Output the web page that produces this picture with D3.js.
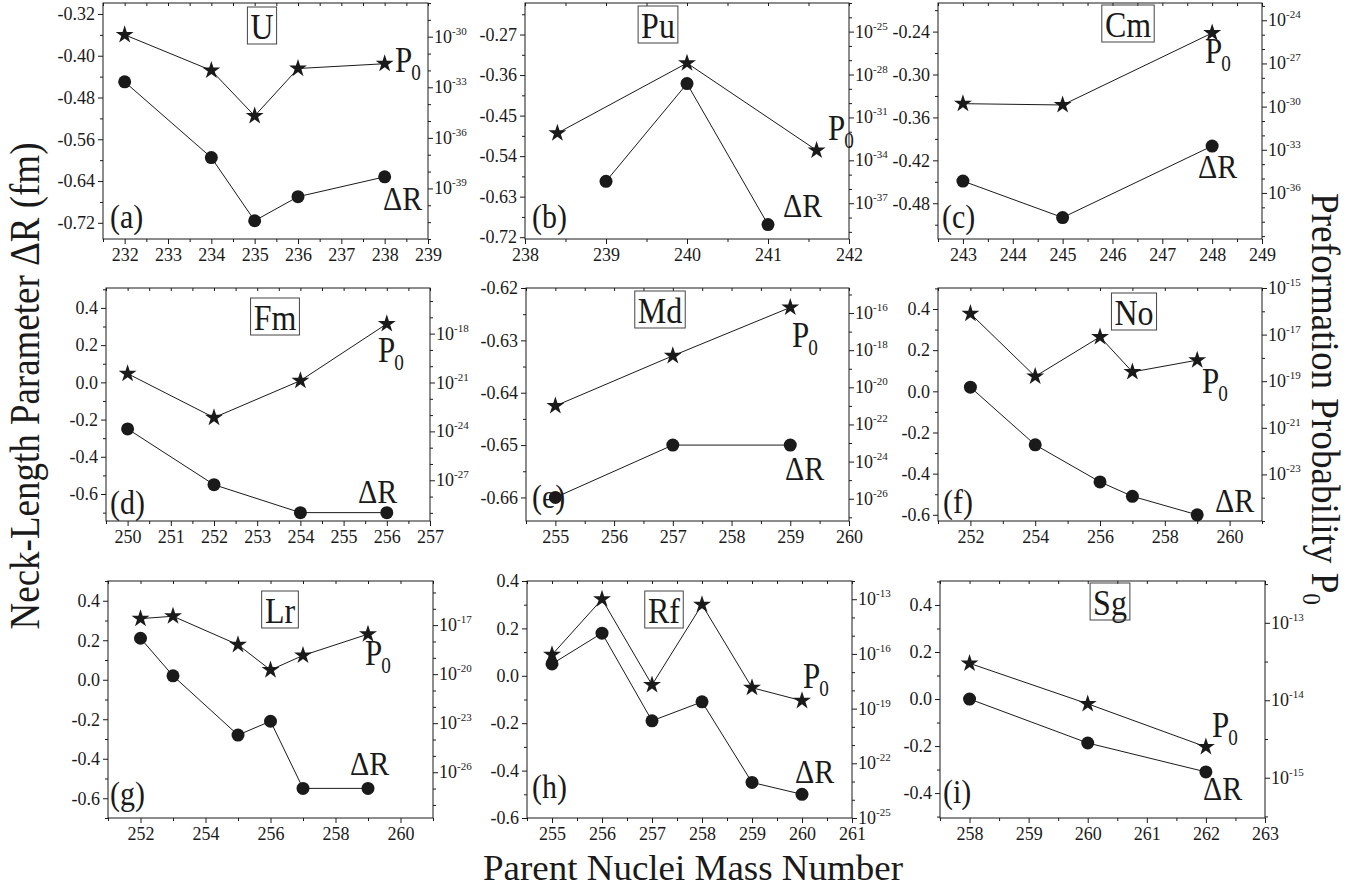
<!DOCTYPE html>
<html>
<head>
<meta charset="utf-8">
<script src="https://cdn.jsdelivr.net/npm/d3@7"></script>
<style>
  body { margin: 0; background: #fff; }
  svg { display: block; }
</style>
</head>
<body>
<div id="chart"></div>
<script>
// ---- data ----
const elements = ["U", "Pu", "Cm", "Fm", "Md", "No", "Lr", "Rf", "Sg"];
const tags = ["(a)", "(b)", "(c)", "(d)", "(e)", "(f)", "(g)", "(h)", "(i)"];

// neck-length parameter ΔR (fm), circles
const massDR = [
  [232, 234, 235, 236, 238],
  [239, 240, 241],
  [243, 245, 248],
  [250, 252, 254, 256],
  [255, 257, 259],
  [252, 254, 256, 257, 259],
  [252, 253, 255, 256, 257, 259],
  [255, 256, 257, 258, 259, 260],
  [258, 260, 262]
];
const deltaR = [
  [-0.450, -0.595, -0.716, -0.670, -0.632],
  [-0.596, -0.379, -0.692],
  [-0.449, -0.500, -0.400],
  [-0.25, -0.55, -0.70, -0.70],
  [-0.66, -0.65, -0.65],
  [0.02, -0.26, -0.44, -0.51, -0.60],
  [0.21, 0.02, -0.28, -0.21, -0.55, -0.55],
  [0.05, 0.18, -0.19, -0.11, -0.45, -0.50],
  [0.0, -0.187, -0.31]
];

// preformation probability P0, stars (right log axis)
const massP0 = [
  [232, 234, 235, 236, 238],
  [238.4, 240, 241.6],
  [243, 245, 248],
  [250, 252, 254, 256],
  [255, 257, 259],
  [252, 254, 256, 257, 259],
  [252, 253, 255, 256, 257, 259],
  [255, 256, 257, 258, 259, 260],
  [258, 260, 262]
];
const p0 = [
  [1.3e-30, 1.0e-32, 2.0e-35, 1.3e-32, 2.5e-32],
  [8e-33, 6.3e-28, 5e-34],
  [1.6e-30, 1.3e-30, 1.3e-25],
  [3.5e-21, 7e-24, 1.3e-21, 4e-18],
  [1e-21, 5e-19, 2e-16],
  [8e-17, 1.6e-19, 8e-18, 2.5e-19, 8e-19],
  [2.5e-17, 3.5e-17, 6.3e-19, 1.8e-20, 1.4e-19, 2.8e-18],
  [9e-17, 1e-13, 2e-18, 5e-14, 1.4e-18, 2.7e-19],
  [3e-14, 9e-15, 2.5e-15]
];

// axes
const xDomains = [[231.5, 239], [238, 242], [242.5, 249], [249.5, 257], [254.5, 260],
                  [251, 261], [251, 261], [254.5, 261], [257.5, 263]];
const xTicks = [
  [232, 233, 234, 235, 236, 237, 238, 239],
  [238, 239, 240, 241, 242],
  [243, 244, 245, 246, 247, 248, 249],
  [250, 251, 252, 253, 254, 255, 256, 257],
  [255, 256, 257, 258, 259, 260],
  [252, 254, 256, 258, 260],
  [252, 254, 256, 258, 260],
  [255, 256, 257, 258, 259, 260, 261],
  [258, 259, 260, 261, 262, 263]
];
const drDomains = [[-0.751, -0.299], [-0.724, -0.20], [-0.53, -0.20], [-0.745, 0.507], [-0.6645, -0.62],
                   [-0.63, 0.502], [-0.70, 0.50], [-0.6, 0.4], [-0.506, 0.502]];
const drTicks = [
  [-0.72, -0.64, -0.56, -0.48, -0.40, -0.32],
  [-0.72, -0.63, -0.54, -0.45, -0.36, -0.27],
  [-0.48, -0.42, -0.36, -0.30, -0.24],
  [-0.6, -0.4, -0.2, 0.0, 0.2, 0.4],
  [-0.66, -0.65, -0.64, -0.63, -0.62],
  [-0.6, -0.4, -0.2, 0.0, 0.2, 0.4],
  [-0.6, -0.4, -0.2, 0.0, 0.2, 0.4],
  [-0.6, -0.4, -0.2, 0.0, 0.2, 0.4],
  [-0.4, -0.2, 0.0, 0.2, 0.4]
];
const drDecimals = [2, 2, 2, 1, 2, 1, 1, 1, 1];
const p0Domains = [[1e-42, 1e-28], [Math.pow(10, -39.5), 1e-23], [Math.pow(10, -39.2), Math.pow(10, -22.8)],
                   [Math.pow(10, -29.5), Math.pow(10, -15.2)], [Math.pow(10, -27.2), Math.pow(10, -14.65)],
                   [1e-25, 1e-15], [Math.pow(10, -28.8), Math.pow(10, -14.3)], [1e-25, 1e-12],
                   [Math.pow(10, -15.52), Math.pow(10, -12.46)]];
const p0TickExps = [
  [-30, -33, -36, -39],
  [-25, -28, -31, -34, -37],
  [-24, -27, -30, -33, -36],
  [-18, -21, -24, -27],
  [-16, -18, -20, -22, -24, -26],
  [-15, -17, -19, -21, -23],
  [-17, -20, -23, -26],
  [-13, -16, -19, -22, -25],
  [-13, -14, -15]
];

// ---- layout ----
const frames = [[103, 3, 428, 239], [525, 3, 849, 239], [938, 3, 1262, 239],
                [106, 288, 430, 521], [526, 288, 849, 521], [938, 288, 1262, 521],
                [108, 581, 433, 818], [527, 581, 852, 818], [940, 581, 1265, 818]];
const boxPos = [[262, 39], [658, 38], [1128, 37], [275, 330], [660, 323], [1134, 325], [280, 623], [664, 623], [1110, 615]];
const tagPos = [[110, 228], [532, 228], [942, 228], [110, 514], [532, 508], [943, 513], [110, 805], [532, 798], [943, 803]];
const p0Pos = [[395, 72], [828, 140], [1205, 63], [378, 362], [792, 347], [1202, 393], [365, 665], [803, 688], [1212, 737]];
const drPos = [[383, 210], [783, 217], [1198, 178], [358, 503], [785, 480], [1215, 512], [350, 775], [795, 783], [1203, 800]];

const ink = "#1a1a1a";
const serif = "'Times New Roman', Times, Tinos, 'Liberation Serif', 'Nimbus Roman', 'DejaVu Serif', 'Noto Serif', serif";
const stretch = 1.15;

const svg = d3.select("#chart").append("svg")
  .attr("width", 1369)
  .attr("height", 892)
  .style("font-family", serif);

function bigText(sel, x, y, size, text, sub) {
  const t = sel.append("text")
    .attr("transform", `translate(${x},${y}) scale(1,${stretch})`)
    .style("font-family", serif)
    .attr("font-size", size)
    .attr("fill", ink)
    .text(text);
  if (sub) {
    t.append("tspan").attr("font-size", size * 0.62).attr("dx", -1).attr("dy", 7).text(sub);
  }
  return t;
}

function minorOf(ticks, domain) {
  const step = ticks[1] - ticks[0];
  const out = [];
  const lo = Math.min(domain[0], domain[1]), hi = Math.max(domain[0], domain[1]);
  for (let v = ticks[0] - step / 2; v <= ticks[ticks.length - 1] + step / 2 + 1e-9; v += step) {
    if (v >= lo - 1e-9 && v <= hi + 1e-9) out.push(v);
  }
  return out;
}

function styleAxis(g) {
  g.select(".domain").remove();
  g.selectAll(".tick line").attr("stroke", ink);
  g.attr("font-family", null).attr("font-size", 18).style("font-family", serif);
  g.selectAll(".tick text").attr("fill", ink);
}

elements.forEach((el, i) => {
  const [L, T, R, B] = frames[i];
  const x = d3.scaleLinear().domain(xDomains[i]).range([L, R]);
  const yL = d3.scaleLinear().domain(drDomains[i]).range([B, T]);
  const yR = d3.scaleLog().domain(p0Domains[i]).range([B, T]);
  const g = svg.append("g");

  // bottom axis
  g.append("g").attr("transform", `translate(0,${B})`)
    .call(d3.axisBottom(x).tickValues(xTicks[i]).tickSize(5).tickPadding(4).tickFormat(d3.format("d")))
    .call(styleAxis);
  g.append("g").attr("transform", `translate(0,${B})`)
    .call(d3.axisBottom(x).tickValues(minorOf(xTicks[i], xDomains[i])).tickSize(3).tickFormat(""))
    .call(styleAxis);
  // top ticks (inside)
  g.append("g").attr("transform", `translate(0,${T})`)
    .call(d3.axisTop(x).tickValues(xTicks[i].concat(minorOf(xTicks[i], xDomains[i]))).tickSize(-3).tickFormat(""))
    .call(styleAxis);

  // left axis
  const dec = drDecimals[i];
  g.append("g").attr("transform", `translate(${L},0)`)
    .call(d3.axisLeft(yL).tickValues(drTicks[i]).tickSize(5).tickPadding(3)
      .tickFormat(d => (Math.abs(d) < 1e-9 ? 0 : d).toFixed(dec)))
    .call(styleAxis);
  g.append("g").attr("transform", `translate(${L},0)`)
    .call(d3.axisLeft(yL).tickValues(minorOf(drTicks[i], drDomains[i])).tickSize(3).tickFormat(""))
    .call(styleAxis);

  // right log axis
  const exps = p0TickExps[i];
  const expStep = Math.abs(exps[1] - exps[0]);
  const lo = Math.log10(p0Domains[i][0]), hi = Math.log10(p0Domains[i][1]);
  const minorExps = [];
  const mStep = expStep === 1 ? 0.5 : 1;
  for (let e = Math.ceil(lo / mStep) * mStep; e <= hi; e += mStep) {
    if (!exps.some(v => Math.abs(v - e) < 1e-6)) minorExps.push(e);
  }
  g.append("g").attr("transform", `translate(${R},0)`)
    .call(d3.axisRight(yR).tickValues(exps.map(e => Math.pow(10, e))).tickSize(5).tickFormat(""))
    .call(styleAxis);
  g.append("g").attr("transform", `translate(${R},0)`)
    .call(d3.axisRight(yR).tickValues(minorExps.map(e => Math.pow(10, e))).tickSize(3).tickFormat(""))
    .call(styleAxis);
  exps.forEach(e => {
    const t = g.append("text")
      .attr("x", R + 6)
      .attr("y", yR(Math.pow(10, e)) + 6)
      .style("font-family", serif)
      .attr("font-size", 18)
      .attr("fill", ink)
      .text("10");
    t.append("tspan").attr("font-size", 11).attr("dy", -8).text(String(e));
  });

  // frame
  g.append("rect")
    .attr("x", L).attr("y", T)
    .attr("width", R - L).attr("height", B - T)
    .attr("fill", "none")
    .attr("stroke", ink)
    .attr("stroke-width", 1);

  // ΔR series
  const drPts = massDR[i].map((m, k) => [m, deltaR[i][k]]);
  g.append("path")
    .datum(drPts)
    .attr("fill", "none")
    .attr("stroke", ink)
    .attr("stroke-width", 1)
    .attr("d", d3.line().x(d => x(d[0])).y(d => yL(d[1])));
  g.selectAll(".dr")
    .data(drPts)
    .join("circle")
    .attr("class", "dr")
    .attr("cx", d => x(d[0]))
    .attr("cy", d => yL(d[1]))
    .attr("r", 6.5)
    .attr("fill", ink);

  // P0 series
  const pPts = massP0[i].map((m, k) => [m, p0[i][k]]);
  g.append("path")
    .datum(pPts)
    .attr("fill", "none")
    .attr("stroke", ink)
    .attr("stroke-width", 1)
    .attr("d", d3.line().x(d => x(d[0])).y(d => yR(d[1])));
  g.selectAll(".p0")
    .data(pPts)
    .join("path")
    .attr("class", "p0")
    .attr("transform", d => `translate(${x(d[0])},${yR(d[1])})`)
    .attr("d", d3.symbol(d3.symbolStar, 100))
    .attr("fill", ink);

  // labels
  const [bx, by] = boxPos[i];
  const et = bigText(g, bx, by, 32, el).attr("text-anchor", "middle");
  const w = et.node().getBBox().width;
  g.append("rect")
    .attr("x", bx - w / 2 - 3).attr("y", by - 32)
    .attr("width", w + 6).attr("height", 37)
    .attr("fill", "none")
    .attr("stroke", "#444")
    .attr("stroke-width", 1);

  bigText(g, tagPos[i][0], tagPos[i][1], 30, tags[i]);
  bigText(g, p0Pos[i][0], p0Pos[i][1], 31, "P", "0");
  bigText(g, drPos[i][0], drPos[i][1], 30, "\u0394R");
});

// axis titles
function fitTitle(t, target, sy, base) {
  const len = t.node().getComputedTextLength();
  t.attr("transform", `${base} scale(${target / len},${sy})`);
}

const leftTitle = svg.append("text")
  .attr("text-anchor", "middle")
  .style("font-family", serif)
  .attr("font-size", 37)
  .attr("fill", ink)
  .text("Neck-Length Parameter \u0394R (fm)");
fitTitle(leftTitle, 487, 1.15, "translate(39,386) rotate(-90)");

const rightTitle = svg.append("text")
  .attr("text-anchor", "middle")
  .style("font-family", serif)
  .attr("font-size", 37)
  .attr("fill", ink)
  .text("Preformation Probability P");
rightTitle.append("tspan").attr("font-size", 23).attr("dy", 8).text("0");
fitTitle(rightTitle, 412, 1.1, "translate(1312,399) rotate(90)");

const bottomTitle = svg.append("text")
  .attr("text-anchor", "middle")
  .style("font-family", serif)
  .attr("font-size", 36)
  .attr("fill", ink)
  .text("Parent Nuclei Mass Number");
fitTitle(bottomTitle, 420, 1.0, "translate(693,880)");
</script>
</body>
</html>
